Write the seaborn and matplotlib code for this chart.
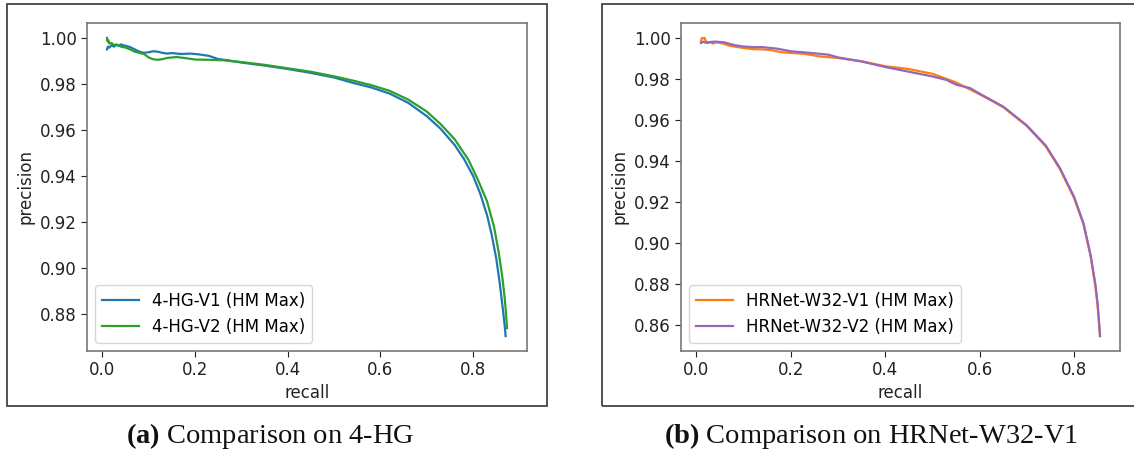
import matplotlib
matplotlib.use("Agg")
import matplotlib.pyplot as plt
from matplotlib.patches import Rectangle
import seaborn as sns

# ---------------- data ----------------
hg_v1_recall = [0.010, 0.012, 0.015, 0.020, 0.025, 0.030, 0.035, 0.040, 0.045, 0.050,
                0.060, 0.070, 0.080, 0.090, 0.100, 0.110, 0.120, 0.130, 0.140, 0.150,
                0.170, 0.190, 0.210, 0.230, 0.250, 0.270, 0.300, 0.350, 0.400, 0.450,
                0.500, 0.540, 0.580, 0.620, 0.660, 0.700, 0.730, 0.760, 0.780, 0.800,
                0.815, 0.830, 0.840, 0.850, 0.857, 0.863, 0.867, 0.869, 0.870]
hg_v1_precision = [0.9950, 0.9962, 0.9958, 0.9968, 0.9962, 0.9970, 0.9965, 0.9972, 0.9968, 0.9966,
                   0.9960, 0.9950, 0.9940, 0.9935, 0.9938, 0.9942, 0.9940, 0.9935, 0.9932, 0.9934,
                   0.9930, 0.9932, 0.9928, 0.9922, 0.9908, 0.9903, 0.9893, 0.9880, 0.9865, 0.9848,
                   0.9828, 0.9805, 0.9785, 0.9758, 0.9718, 0.9660, 0.9605, 0.9535, 0.9475, 0.9400,
                   0.9325, 0.9230, 0.9145, 0.9040, 0.8940, 0.8840, 0.8770, 0.8730, 0.8705]

hg_v2_recall = [0.010, 0.011, 0.013, 0.015, 0.020, 0.025, 0.030, 0.040, 0.050, 0.060,
                0.070, 0.080, 0.090, 0.100, 0.110, 0.120, 0.130, 0.140, 0.160, 0.180,
                0.200, 0.230, 0.260, 0.300, 0.350, 0.400, 0.450, 0.500, 0.540, 0.580,
                0.620, 0.660, 0.700, 0.730, 0.760, 0.790, 0.810, 0.830, 0.845, 0.855,
                0.863, 0.868, 0.871, 0.873]
hg_v2_precision = [1.0000, 0.9985, 0.9990, 0.9975, 0.9978, 0.9968, 0.9972, 0.9962, 0.9958, 0.9950,
                   0.9940, 0.9935, 0.9930, 0.9915, 0.9907, 0.9905, 0.9908, 0.9913, 0.9917, 0.9912,
                   0.9906, 0.9905, 0.9903, 0.9895, 0.9883, 0.9868, 0.9853, 0.9833, 0.9815, 0.9795,
                   0.9770, 0.9732, 0.9680, 0.9625, 0.9560, 0.9470, 0.9385, 0.9290, 0.9180, 0.9070,
                   0.8960, 0.8870, 0.8800, 0.8740]

hr_v1_recall = [0.010, 0.012, 0.015, 0.018, 0.020, 0.025, 0.030, 0.035, 0.040, 0.050,
                0.060, 0.070, 0.080, 0.100, 0.120, 0.140, 0.160, 0.180, 0.200, 0.230,
                0.260, 0.300, 0.350, 0.400, 0.450, 0.500, 0.550, 0.600, 0.650, 0.700,
                0.740, 0.770, 0.800, 0.820, 0.835, 0.845, 0.850, 0.853, 0.855]
hr_v1_precision = [0.9985, 1.0000, 0.9998, 1.0000, 0.9985, 0.9975, 0.9980, 0.9972, 0.9978, 0.9976,
                   0.9970, 0.9962, 0.9958, 0.9951, 0.9945, 0.9944, 0.9940, 0.9930, 0.9927, 0.9922,
                   0.9910, 0.9902, 0.9886, 0.9862, 0.9848, 0.9825, 0.9783, 0.9725, 0.9662, 0.9570,
                   0.9471, 0.9360, 0.9219, 0.9090, 0.8935, 0.8790, 0.8690, 0.8600, 0.8545]

hr_v2_recall = [0.010, 0.015, 0.020, 0.030, 0.040, 0.060, 0.080, 0.100, 0.120, 0.140,
                0.170, 0.200, 0.250, 0.280, 0.300, 0.350, 0.400, 0.450, 0.500, 0.530,
                0.550, 0.580, 0.600, 0.650, 0.700, 0.740, 0.770, 0.800, 0.820, 0.835,
                0.845, 0.850, 0.853, 0.855]
hr_v2_precision = [0.9975, 0.9982, 0.9976, 0.9980, 0.9982, 0.9978, 0.9965, 0.9958, 0.9955, 0.9955,
                   0.9948, 0.9935, 0.9925, 0.9918, 0.9905, 0.9885, 0.9858, 0.9835, 0.9812, 0.9795,
                   0.9772, 0.9755, 0.9728, 0.9665, 0.9573, 0.9475, 0.9365, 0.9225, 0.9095, 0.8940,
                   0.8800, 0.8700, 0.8610, 0.8545]

labels_a = ["4-HG-V1 (HM Max)", "4-HG-V2 (HM Max)"]
labels_b = ["HRNet-W32-V1 (HM Max)", "HRNet-W32-V2 (HM Max)"]
captions = [("a", "Comparison on 4-HG"), ("b", "Comparison on HRNet-W32-V1")]

# ---------------- style ----------------
plt.rcParams["font.family"] = ["DejaVu Sans"]
plt.rcParams["mathtext.fontset"] = "custom"
plt.rcParams["mathtext.rm"] = "Liberation Serif"
plt.rcParams["mathtext.bf"] = "Liberation Serif:bold"

FS = 12
W, H = 1134, 454
fig = plt.figure(figsize=(W / 100, H / 100), dpi=100)

ax_a = fig.add_axes([87 / W, 1 - 351 / H, 440 / W, 328 / H])
ax_b = fig.add_axes([681 / W, 1 - 351 / H, 439 / W, 328 / H])

sns.lineplot(x=hg_v1_recall, y=hg_v1_precision, ax=ax_a, color="#1f77b4",
             label=labels_a[0], sort=False, estimator=None, linewidth=1.6)
sns.lineplot(x=hg_v2_recall, y=hg_v2_precision, ax=ax_a, color="#2ca02c",
             label=labels_a[1], sort=False, estimator=None, linewidth=1.6)
sns.lineplot(x=hr_v1_recall, y=hr_v1_precision, ax=ax_b, color="#ff7f0e",
             label=labels_b[0], sort=False, estimator=None, linewidth=1.6)
sns.lineplot(x=hr_v2_recall, y=hr_v2_precision, ax=ax_b, color="#9467bd",
             label=labels_b[1], sort=False, estimator=None, linewidth=1.6)

for ax in (ax_a, ax_b):
    ax.set_xlabel("recall", fontsize=FS, color="#222222", labelpad=3)
    ax.set_ylabel("precision", fontsize=FS, color="#222222")
    ax.tick_params(labelsize=FS, colors="#222222", length=4)
    ax.set_xticks([0.0, 0.2, 0.4, 0.6, 0.8])
    for s in ax.spines.values():
        s.set_color("#777777")
        s.set_linewidth(1.2)
    ax.legend(loc="lower left", fontsize=FS, handlelength=2.2)

ax_a.set_yticks([0.88, 0.90, 0.92, 0.94, 0.96, 0.98, 1.00])
ax_b.set_yticks([0.86, 0.88, 0.90, 0.92, 0.94, 0.96, 0.98, 1.00])
ax_a.yaxis.set_major_formatter(matplotlib.ticker.FormatStrFormatter("%.2f"))
ax_b.yaxis.set_major_formatter(matplotlib.ticker.FormatStrFormatter("%.2f"))
ax_a.xaxis.set_major_formatter(matplotlib.ticker.FormatStrFormatter("%.1f"))
ax_b.xaxis.set_major_formatter(matplotlib.ticker.FormatStrFormatter("%.1f"))

# outer frames
fig.add_artist(Rectangle((7 / W, 1 - 406 / H), 540 / W, 402 / H, transform=fig.transFigure,
                         fill=False, edgecolor="#444444", linewidth=1.3))
fig.add_artist(Rectangle((602 / W, 1 - 406 / H), 545 / W, 402 / H, transform=fig.transFigure,
                         fill=False, edgecolor="#444444", linewidth=1.3, clip_on=False))

# captions
for (tag, txt), cx in zip(captions, [270, 871]):
    fig.text(cx / W, 1 - 436 / H, r"$\mathbf{(" + tag + r")}$ " + txt,
             ha="center", va="center", fontsize=20.5, family="Liberation Serif", color="#111111")

fig.savefig("out.png", dpi=100, facecolor="white")
